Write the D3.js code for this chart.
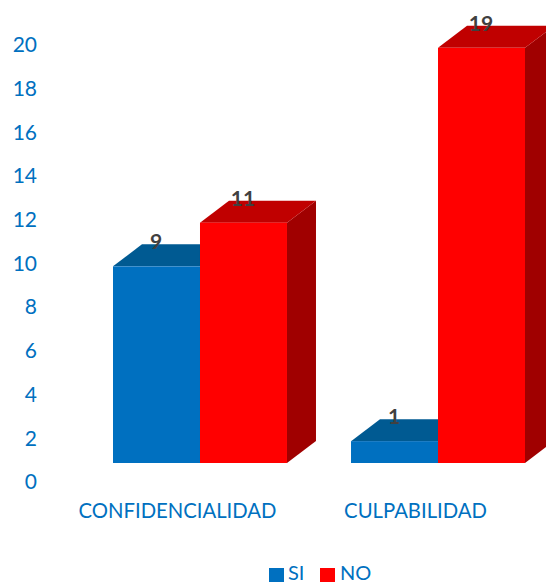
<!DOCTYPE html>
<html><head><meta charset="utf-8">
<script src="https://cdn.jsdelivr.net/npm/d3@7"></script>
<style>html,body{margin:0;padding:0;background:#fff;overflow:hidden}svg{display:block}</style>
</head><body><div id="c"></div>
<script>
const categories = ["CONFIDENCIALIDAD", "CULPABILIDAD"];
const seriesNames = ["SI", "NO"];
const siValues = [9, 1];
const noValues = [11, 19];
const yTicks = [0, 2, 4, 6, 8, 10, 12, 14, 16, 18, 20];
const frontColors = ["#0070C0", "#FF0000"];
const topColors = ["#025A92", "#C00000"];
const sideColors = ["#01497A", "#A00000"];

const W = 546, H = 584, font = "Lato, Carlito, sans-serif";
const depthX = 29, depthY = 22;
const svg = d3.select("#c").append("svg").attr("width", W).attr("height", H);
const soft = svg.append("defs").append("filter").attr("id", "soft")
  .attr("x", "-5%").attr("y", "-5%").attr("width", "110%").attr("height", "110%");
soft.append("feGaussianBlur").attr("stdDeviation", 0.5);
const y = d3.scaleLinear().domain([0, 20]).range([463, 26]);
const x0 = d3.scaleBand().domain(categories).range([113, 525]).paddingInner(0.269).paddingOuter(0);
const x1 = d3.scaleBand().domain(seriesNames).range([0, x0.bandwidth()]);

const seriesData = [siValues, noValues];
const rows = [];
categories.forEach((c, i) => seriesNames.forEach((s, j) =>
  rows.push({cat: c, name: s, idx: j, value: seriesData[j][i]})));

const bars = svg.append("g").attr("filter", "url(#soft)").selectAll("g").data(rows).join("g");
const left = d => x0(d.cat) + x1(d.name);
const right = d => left(d) + x1.bandwidth();
bars.append("path").attr("fill", d => sideColors[d.idx])
  .attr("d", d => `M${right(d)},${y(d.value)}L${right(d)+depthX},${y(d.value)-depthY}L${right(d)+depthX},${y(0)-depthY}L${right(d)},${y(0)}Z`);
bars.append("path").attr("fill", d => topColors[d.idx])
  .attr("d", d => `M${left(d)},${y(d.value)}L${left(d)+depthX},${y(d.value)-depthY}L${right(d)+depthX},${y(d.value)-depthY}L${right(d)},${y(d.value)}Z`);
bars.append("rect").attr("fill", d => frontColors[d.idx])
  .attr("x", left).attr("y", d => y(d.value))
  .attr("width", x1.bandwidth()).attr("height", d => y(0) - y(d.value));

svg.append("g").selectAll("text").data(rows).join("text")
  .attr("x", d => left(d) + x1.bandwidth() / 2 - 0.5).attr("y", d => y(d.value) - 17)
  .attr("text-anchor", "middle").attr("font-family", font).attr("font-weight", 700)
  .attr("font-size", 21).attr("fill", "#404040").text(d => d.value);

const yAxis = svg.append("g").attr("transform", "translate(37,19)")
  .call(d3.axisLeft(y).tickValues(yTicks).tickSize(0).tickPadding(0));
yAxis.select(".domain").remove();
yAxis.selectAll("text").attr("font-family", font).attr("font-size", 21).attr("fill", "#0070C0");

const xAxis = svg.append("g").attr("transform", "translate(-22.5,504)")
  .call(d3.axisBottom(x0).tickSize(0).tickPadding(0));
xAxis.select(".domain").remove();
xAxis.selectAll("text").attr("font-family", font).attr("font-size", 20.3).attr("fill", "#0070C0");

const legendX = [269, 320];
const leg = svg.append("g").selectAll("g").data(seriesNames).join("g")
  .attr("transform", (d, i) => `translate(${legendX[i]},568)`);
leg.append("rect").attr("width", 15).attr("height", 14).attr("fill", (d, i) => frontColors[i]);
leg.append("text").attr("x", (d, i) => i ? 20 : 19).attr("y", 11.7)
  .attr("font-family", font).attr("font-size", 20).attr("fill", "#0070C0").text(d => d);
</script></body></html>
